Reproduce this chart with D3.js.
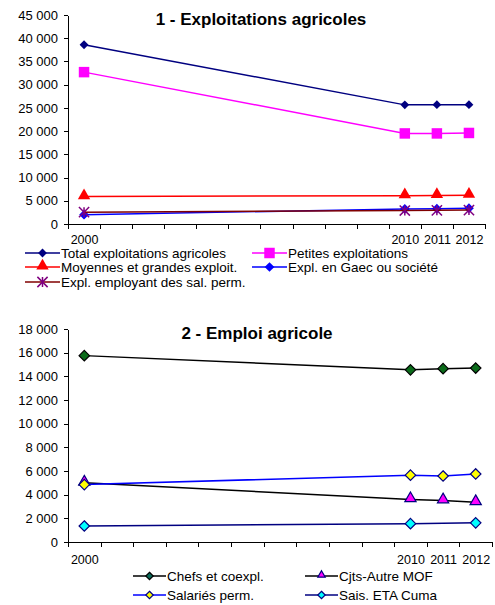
<!DOCTYPE html>
<html>
<head>
<meta charset="utf-8">
<script src="https://cdn.jsdelivr.net/npm/d3@7"></script>
<style>
    body { margin: 0; background: #fff; }
    svg { display: block; font-family: "Liberation Sans", Arial, sans-serif; }
    .axis path, .axis line { stroke: #000; stroke-width: 1; shape-rendering: crispEdges; }
    .axis text { fill: #000; }
</style>
</head>
<body>
<div class="chart-container"></div>
<script>
// Data
const yearsShown = [2000, 2010, 2011, 2012];

// 1 - Exploitations agricoles (2000, 2010, 2011, 2012)
const totalExpl = [38600, 25650, 25700, 25700];
const petitesExpl = [32700, 19500, 19500, 19600];
const moyennesExpl = [5900, 6100, 6150, 6200];
const gaecExpl = [2000, 3250, 3300, 3400];
const salPermExpl = [2550, 2900, 2950, 3000];
const ticks1 = [0, 5000, 10000, 15000, 20000, 25000, 30000, 35000, 40000, 45000];

// 2 - Emploi agricole
const chefs = [15750, 14550, 14650, 14700];
const cjts = [5000, 3600, 3500, 3350];
const salaries = [4850, 5650, 5580, 5750];
const saisEta = [1350, 1550, null, 1620];
const ticks2 = [0, 2000, 4000, 6000, 8000, 10000, 12000, 14000, 16000, 18000];

const fr = d3.formatLocale({ decimal: ',', thousands: '\u00a0', grouping: [3], currency: ['', ' €'] });
const fmt = fr.format(',');

const svg = d3.select('.chart-container').append('svg')
    .attr('width', 495).attr('height', 605);

// marker shapes
function marker(g, type, size, fill, stroke) {
    let sym;
    if (type === 'diamond') sym = d3.symbol(d3.symbolDiamond2, size);
    if (type === 'square') sym = d3.symbol(d3.symbolSquare, size);
    if (type === 'triangle') sym = d3.symbol(d3.symbolTriangle2, size);
    if (type === 'star') sym = d3.symbol(d3.symbolTimes, size);
    if (type === 'triangle') {
        g.append('path').attr('d', sym()).attr('transform', 'translate(0,-1)')
            .attr('fill', fill).attr('stroke', stroke).attr('stroke-width', 1.2);
    } else if (type === 'star') {
        g.append('path').attr('d', sym()).attr('fill', 'none')
            .attr('stroke', fill).attr('stroke-width', 1.5);
        g.append('line').attr('x1', 0).attr('x2', 0).attr('y1', -5).attr('y2', 5)
            .attr('stroke', fill).attr('stroke-width', 1.5);
    } else {
        g.append('path').attr('d', sym()).attr('fill', fill)
            .attr('stroke', stroke).attr('stroke-width', stroke ? 1.2 : 0);
    }
}

function drawChart(cfg) {
    const x = d3.scaleLinear().domain([2000, 2013]).range([cfg.left, cfg.right]);
    const y = d3.scaleLinear().domain([0, d3.max(cfg.ticks)]).range([cfg.bottom, cfg.top]);
    const g = svg.append('g');

    // y axis
    g.append('g').attr('class', 'axis')
        .attr('transform', `translate(${cfg.left},0)`)
        .call(d3.axisLeft(y).tickValues(cfg.ticks).tickFormat(fmt).tickSize(4).tickPadding(6).tickSizeOuter(0))
        .selectAll('text').style('font-size', '13px');

    // x axis tick marks at slot edges
    g.append('g').attr('class', 'axis')
        .attr('transform', `translate(0,${cfg.bottom})`)
        .call(d3.axisBottom(x).tickValues(d3.range(2000, 2014)).tickFormat('').tickSize(5).tickSizeOuter(0));

    // x labels at slot centres
    g.append('g').attr('class', 'axis')
        .attr('transform', `translate(0,${cfg.bottom})`)
        .call(d3.axisBottom(x).tickValues(yearsShown.map(d => d + 0.5)).tickFormat(d => Math.floor(d)).tickSize(0).tickPadding(cfg.labelPad))
        .call(a => a.select('.domain').remove())
        .selectAll('text').style('font-size', '12.5px');

    // title
    g.append('text').attr('x', cfg.titleX).attr('y', cfg.titleY)
        .attr('text-anchor', 'middle').style('font-weight', 'bold').style('font-size', '17px')
        .text(cfg.title);

    const line = d3.line()
        .x(d => x(d.yr + 0.5)).y(d => y(d.v));

    cfg.series.forEach(s => {
        const pts = yearsShown.map((yr, i) => ({ yr: yr, v: s.values[i] }))
            .filter(d => d.v !== null);
        g.append('path').datum(pts)
            .attr('fill', 'none').attr('stroke', s.line).attr('stroke-width', 1.5)
            .attr('d', line);
        pts.forEach(d => {
            const m = g.append('g').attr('transform', `translate(${x(d.yr + 0.5)},${y(d.v)})`);
            marker(m, s.shape, s.size, s.fill, s.stroke);
        });
    });

    // legend
    cfg.series.forEach((s, i) => {
        const p = cfg.legend[i];
        const lg = g.append('g').attr('transform', `translate(${p[0]},${p[1]})`);
        lg.append('line').attr('x1', 0).attr('x2', cfg.legLen).attr('y1', 0).attr('y2', 0)
            .attr('stroke', s.line).attr('stroke-width', 1.5);
        const m = lg.append('g').attr('transform', `translate(${cfg.legLen / 2},0)`);
        marker(m, s.shape, s.legSize || s.size, s.legFill || s.fill, s.stroke);
        lg.append('text').attr('x', cfg.legLen + 1).attr('y', 0).attr('dy', '0.35em')
            .style('font-size', '13.5px').text(s.name);
    });
}

drawChart({
    left: 68, right: 485, top: 15, bottom: 224, ticks: ticks1, labelPad: 11,
    title: '1 - Exploitations agricoles', titleX: 261, titleY: 25,
    legLen: 35,
    legend: [[25, 253], [252, 253], [25, 267], [252, 267], [25, 282]],
    series: [
        { name: 'Total exploitations agricoles', values: totalExpl, line: '#000080', shape: 'diamond', size: 50, fill: '#000080' },
        { name: 'Petites exploitations', values: petitesExpl, line: '#ff00ff', shape: 'square', size: 110, fill: '#ff00ff' },
        { name: 'Moyennes et grandes exploit.', values: moyennesExpl, line: '#ff0000', shape: 'triangle', size: 110, fill: '#ff0000' },
        { name: 'Expl. en Gaec ou société', values: gaecExpl, line: '#0000ff', shape: 'diamond', size: 60, fill: '#0000ff' },
        { name: 'Expl. employant des sal. perm.', values: salPermExpl, line: '#800000', shape: 'star', size: 70, fill: '#800080' }
    ]
});

drawChart({
    left: 68, right: 492, top: 329, bottom: 542, ticks: ticks2, labelPad: 13,
    title: '2 - Emploi agricole', titleX: 257, titleY: 339,
    legLen: 33,
    legend: [[133, 576], [305, 576], [133, 595], [305, 595]],
    series: [
        { name: 'Chefs et coexpl.', values: chefs, line: '#000000', shape: 'diamond', size: 70, fill: '#0b6b1a', stroke: '#000', legSize: 35, legFill: '#0b6b5a' },
        { name: 'Cjts-Autre MOF', values: cjts, line: '#000000', shape: 'triangle', size: 90, fill: '#ff00ff', stroke: '#000080', legSize: 40 },
        { name: 'Salariés perm.', values: salaries, line: '#0000ff', shape: 'diamond', size: 70, fill: '#ffff00', stroke: '#000080', legSize: 35 },
        { name: 'Sais. ETA Cuma', values: saisEta, line: '#000080', shape: 'diamond', size: 70, fill: '#00ffff', stroke: '#000080', legSize: 35 }
    ]
});
</script>
</body>
</html>
